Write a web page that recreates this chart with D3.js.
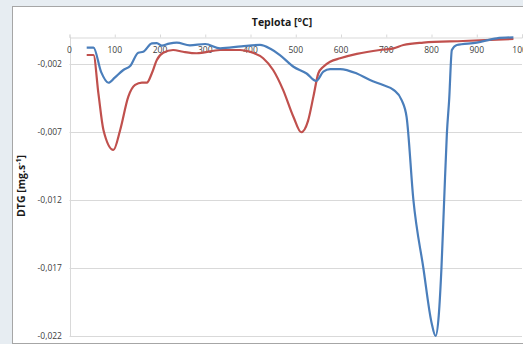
<!DOCTYPE html>
<html>
<head>
<meta charset="utf-8">
<script src="https://cdn.jsdelivr.net/npm/d3@7"></script>
<style>
  html, body { margin: 0; padding: 0; background: #e7edf2; }
  svg { display: block; }
  text { font-family: "Open Sans", "Liberation Sans", sans-serif; }
</style>
</head>
<body>
<svg id="chart" width="523" height="344"></svg>
<script>
// Temperature (°C) and DTG (mg/s) samples for the two runs
const blueT = [38, 53, 70, 86, 100, 119, 134, 152, 163, 182, 193, 204, 220, 237, 266, 300, 333, 380, 421, 445, 465, 495, 524, 545, 561, 576, 598, 635, 664, 693, 716, 734, 745, 760, 782, 800, 809, 816, 822, 828, 834, 839, 845, 856, 900, 944, 981];
const blueV = [-0.0008, -0.0008, -0.0026, -0.00338, -0.0030, -0.00244, -0.00215, -0.00117, -0.0011, -0.00048, -0.00046, -0.00065, -0.0005, -0.00043, -0.00063, -0.00053, -0.00085, -0.0007, -0.0006, -0.0009, -0.00134, -0.0022, -0.0027, -0.00325, -0.00256, -0.00237, -0.00237, -0.0027, -0.00318, -0.00355, -0.0039, -0.00465, -0.0059, -0.012, -0.017, -0.0210, -0.022, -0.0205, -0.017, -0.012, -0.0071, -0.00465, -0.00097, -0.0006, -0.00043, -0.00011, -0.00004];

const redT = [38, 53, 64, 75, 97, 112, 130, 145, 160, 171, 182, 193, 207, 229, 251, 281, 333, 377, 399, 428, 450, 472, 495, 512, 527, 539, 550, 561, 576, 598, 635, 686, 716, 738, 782, 870, 981];
const redV = [-0.00134, -0.00134, -0.0042, -0.00685, -0.00832, -0.00685, -0.0044, -0.00354, -0.00337, -0.00337, -0.00268, -0.0017, -0.00117, -0.00097, -0.0011, -0.00121, -0.00097, -0.00097, -0.0011, -0.00158, -0.00244, -0.0039, -0.0059, -0.00702, -0.0062, -0.0044, -0.00268, -0.0022, -0.00183, -0.00158, -0.00126, -0.00097, -0.00085, -0.0006, -0.00043, -0.00031, -0.00016];

const xTicks = [0, 100, 200, 300, 400, 500, 600, 700, 800, 900, 1000];
const yTicks = [-0.002, -0.007, -0.012, -0.017, -0.022];

const svg = d3.select("#chart");
const W = 523, H = 344;

// chart area
svg.append("rect")
  .attr("x", 12.5).attr("y", 6.5)
  .attr("width", W).attr("height", H - 7)
  .attr("fill", "#ffffff")
  .attr("stroke", "#a6a6a6").attr("stroke-width", 1);

const x = d3.scaleLinear().domain([0, 1000]).range([69.5, 522]);
const y = d3.scaleLinear().domain([0, -0.022]).range([36.8, 336]);

// horizontal gridlines
svg.append("g").selectAll("line").data(yTicks).join("line")
  .attr("x1", x(0)).attr("x2", x(1000))
  .attr("y1", d => Math.round(y(d)) + 0.5).attr("y2", d => Math.round(y(d)) + 0.5)
  .attr("stroke", "#d9d9d9").attr("stroke-width", 1);

// left axis line
svg.append("line")
  .attr("x1", Math.round(x(0)) + 0.5).attr("x2", Math.round(x(0)) + 0.5)
  .attr("y1", y(0)).attr("y2", y(-0.022))
  .attr("stroke", "#d9d9d9");

// y tick labels
const fmtY = d => d3.format(".3f")(d).replace("−", "-").replace(".", ",");
svg.append("g").selectAll("text").data(yTicks).join("text")
  .attr("x", 62).attr("y", d => y(d) + 3)
  .attr("text-anchor", "end")
  .attr("font-size", 8.5).attr("fill", "#404040")
  .text(fmtY);

// top x axis (value 0 line) with ticks
const xAxis = d3.axisTop(x).tickValues(xTicks).tickSize(3).tickFormat("");
const gx = svg.append("g").attr("transform", `translate(0,${Math.round(y(0)) + 0.5})`).call(xAxis);
gx.selectAll("path, line").attr("stroke", "#d9d9d9");

svg.append("g").selectAll("text").data(xTicks).join("text")
  .attr("x", d => x(d)).attr("y", 53)
  .attr("text-anchor", "middle")
  .attr("font-size", 8.5).attr("fill", "#404040")
  .text(d => d);

// titles
svg.append("text")
  .attr("x", 282).attr("y", 26)
  .attr("text-anchor", "middle")
  .attr("font-size", 10.5).attr("font-weight", "bold").attr("fill", "#1a1a1a")
  .text("Teplota [°C]");

const yt = svg.append("text")
  .attr("transform", "translate(25,186) rotate(-90)")
  .attr("text-anchor", "middle")
  .attr("font-size", 10.5).attr("font-weight", "bold").attr("fill", "#1a1a1a");
yt.append("tspan").text("DTG [mg.s");
yt.append("tspan").attr("font-size", 7).attr("dy", -4).text("-1");
yt.append("tspan").attr("dy", 4).text("]");

// curves
const line = d3.line()
  .x(d => x(d[0])).y(d => y(d[1]))
  .curve(d3.curveMonotoneX);

svg.append("path")
  .datum(redT.map((t, i) => [t, redV[i]]))
  .attr("d", line)
  .attr("fill", "none").attr("stroke", "#c0504d").attr("stroke-width", 2.2);

svg.append("path")
  .datum(blueT.map((t, i) => [t, blueV[i]]))
  .attr("d", line)
  .attr("fill", "none").attr("stroke", "#4a7ebb").attr("stroke-width", 2.2);
</script>
</body>
</html>
